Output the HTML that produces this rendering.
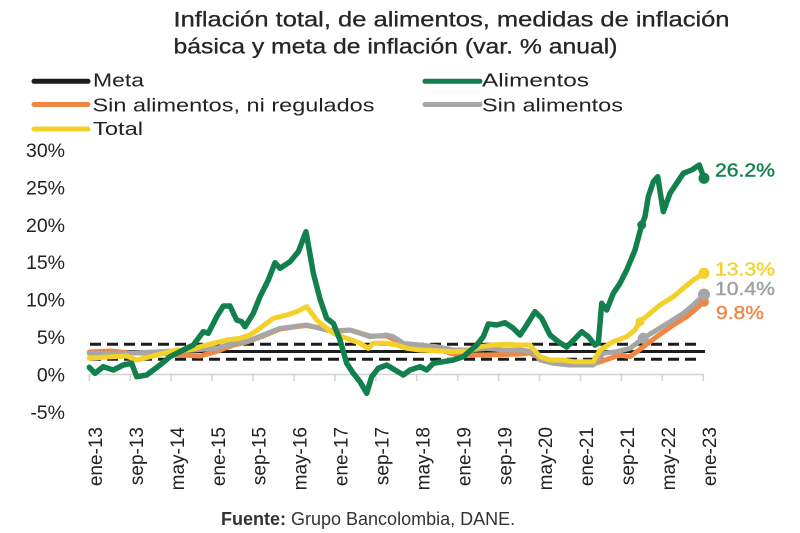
<!DOCTYPE html>
<html>
<head>
<meta charset="utf-8">
<style>
html,body{margin:0;padding:0;background:#fff;}
svg{display:block;}
text{font-family:"Liberation Sans",sans-serif;}
</style>
</head>
<body>
<svg width="800" height="533" viewBox="0 0 800 533" xmlns="http://www.w3.org/2000/svg">
<rect width="800" height="533" fill="#fff"/>

<!-- Title -->
<text x="173.5" y="26.7" font-size="21.5" fill="#262626" stroke="#262626" stroke-width="0.3" textLength="556" lengthAdjust="spacingAndGlyphs">Inflación total, de alimentos, medidas de inflación</text>
<text x="173.5" y="53.3" font-size="21.5" fill="#262626" stroke="#262626" stroke-width="0.3" textLength="444" lengthAdjust="spacingAndGlyphs">básica y meta de inflación (var. % anual)</text>

<!-- Legend -->
<g stroke-width="5" stroke-linecap="round">
<line x1="34" y1="81.3" x2="88" y2="81.3" stroke="#1c1c1c"/>
<line x1="34" y1="104.5" x2="88" y2="104.5" stroke="#ef8744"/>
<line x1="34" y1="129" x2="88" y2="129" stroke="#f4d128"/>
<line x1="425" y1="81.3" x2="480" y2="81.3" stroke="#11804d"/>
<line x1="425" y1="104.5" x2="480" y2="104.5" stroke="#a6a6a6"/>
</g>
<g font-size="18.5" fill="#222">
<text x="93" y="86.7" textLength="51" lengthAdjust="spacingAndGlyphs">Meta</text>
<text x="92.5" y="111.7" textLength="282" lengthAdjust="spacingAndGlyphs">Sin alimentos, ni regulados</text>
<text x="93" y="135" textLength="50" lengthAdjust="spacingAndGlyphs">Total</text>
<text x="482" y="86.7" textLength="107" lengthAdjust="spacingAndGlyphs">Alimentos</text>
<text x="482" y="111.7" textLength="141" lengthAdjust="spacingAndGlyphs">Sin alimentos</text>
</g>

<!-- Y labels -->
<g font-size="19.5" fill="#222" text-anchor="end">
<text x="65" y="157">30%</text>
<text x="65" y="194.4">25%</text>
<text x="65" y="231.8">20%</text>
<text x="65" y="269.2">15%</text>
<text x="65" y="306.6">10%</text>
<text x="65" y="344">5%</text>
<text x="65" y="381.5">0%</text>
<text x="65" y="418.9">-5%</text>
</g>

<!-- X axis -->
<line x1="89.3" y1="374.5" x2="704" y2="374.5" stroke="#d2d2d2" stroke-width="1.5"/>
<g stroke="#d2d2d2" stroke-width="1.5">
<line x1="89.3" y1="374.5" x2="89.3" y2="381"/>
<line x1="130.2" y1="374.5" x2="130.2" y2="381"/>
<line x1="171.2" y1="374.5" x2="171.2" y2="381"/>
<line x1="212.1" y1="374.5" x2="212.1" y2="381"/>
<line x1="253" y1="374.5" x2="253" y2="381"/>
<line x1="294" y1="374.5" x2="294" y2="381"/>
<line x1="334.9" y1="374.5" x2="334.9" y2="381"/>
<line x1="375.8" y1="374.5" x2="375.8" y2="381"/>
<line x1="416.7" y1="374.5" x2="416.7" y2="381"/>
<line x1="457.7" y1="374.5" x2="457.7" y2="381"/>
<line x1="498.6" y1="374.5" x2="498.6" y2="381"/>
<line x1="539.5" y1="374.5" x2="539.5" y2="381"/>
<line x1="580.5" y1="374.5" x2="580.5" y2="381"/>
<line x1="621.4" y1="374.5" x2="621.4" y2="381"/>
<line x1="662.3" y1="374.5" x2="662.3" y2="381"/>
<line x1="703.3" y1="374.5" x2="703.3" y2="381"/>
</g>
<g font-size="19" fill="#222" text-anchor="end">
<text transform="translate(102,427) rotate(-90)">ene-13</text>
<text transform="translate(142.9,427) rotate(-90)">sep-13</text>
<text transform="translate(183.9,427) rotate(-90)">may-14</text>
<text transform="translate(224.8,427) rotate(-90)">ene-15</text>
<text transform="translate(265.7,427) rotate(-90)">sep-15</text>
<text transform="translate(306.7,427) rotate(-90)">may-16</text>
<text transform="translate(347.6,427) rotate(-90)">ene-17</text>
<text transform="translate(388.5,427) rotate(-90)">sep-17</text>
<text transform="translate(429.4,427) rotate(-90)">may-18</text>
<text transform="translate(470.4,427) rotate(-90)">ene-19</text>
<text transform="translate(511.3,427) rotate(-90)">sep-19</text>
<text transform="translate(552.2,427) rotate(-90)">may-20</text>
<text transform="translate(593.2,427) rotate(-90)">ene-21</text>
<text transform="translate(634.1,427) rotate(-90)">sep-21</text>
<text transform="translate(675,427) rotate(-90)">may-22</text>
<text transform="translate(716,427) rotate(-90)">ene-23</text>
</g>

<!-- Meta lines -->
<line x1="89" y1="351.5" x2="705" y2="351.5" stroke="#1c1c1c" stroke-width="3"/>
<line x1="90" y1="344.2" x2="697" y2="344.2" stroke="#1c1c1c" stroke-width="3" stroke-dasharray="11 6"/>
<line x1="90" y1="359.2" x2="697" y2="359.2" stroke="#1c1c1c" stroke-width="3" stroke-dasharray="11 6"/>

<!-- Series -->
<g fill="none" stroke-width="5" stroke-linejoin="round" stroke-linecap="round">
<polyline stroke="#ef8744" points="89.3,352 110,351 130,353 160,353 180,355 200,356 215,352 233.3,345 246.7,342 263.3,336 280,329 293.3,327 306.7,325.5 320,328 333.3,331 350,330 360,333 370,336 386.7,336 403.3,344 420,346 436.7,349 453.3,354 470,355 486.7,355 503.3,354.5 520,354 530,353 540,358 553.3,363 570,365 593.3,364 600,361.7 620,355 630,356.7 643.3,346.7 656.7,336.7 673.3,325 686.7,316.7 696.7,308.3 704,301.7"/>
<polyline stroke="#a6a6a6" points="89.3,353.3 126.7,353.3 160,351.7 193.3,350 216.7,348.3 233.3,343.3 246.7,341.7 263.3,335 280,328.3 293.3,326.7 306.7,325 320,328.3 333.3,331.7 350,330 360,333.3 370,336.7 386.7,335 393.3,336.7 403.3,343.3 420,345 436.7,346.7 453.3,350 470,350 486.7,348.3 503.3,350 520,350 533.3,351.7 540,360 553.3,363.3 570,365 593.3,365 603.3,353.3 616.7,351.7 630,348.3 643.3,338.3 656.7,330 670,321.7 683.3,313.3 693.3,305 704,295"/>
<polyline stroke="#f4d128" points="89.3,358.3 110,356.7 126.7,356 136.7,360 150,356.7 163.3,353.3 176.7,350 190,350 200,346.7 213.3,343.3 226.7,340 240,338.3 250,335 260,328.3 273.3,318.3 286.7,315 296.7,311.7 306.7,306.7 316.7,320 326.7,328.3 333.3,333.3 346.7,338.3 360,343.3 368.3,348.3 373.3,343.3 386.7,343.3 396.7,345 406.7,348.3 420,350 436.7,350.7 453.3,351.7 466.7,351 480,346.7 493.3,345 506.7,344.3 520,345 530,345 540,356.7 550,360 563.3,360 573.3,361.7 593.3,361.7 600,350 613.3,341.7 626.7,336.7 635,330 640,321.7 650,313.3 660,305 673.3,296.7 683.3,288.3 693.3,280 704,273.3"/>
<polyline stroke="#11804d" stroke-width="5.5" points="89.3,367.3 95,373.3 103.3,366.7 113.3,370 123.3,365 131.7,363.3 136.7,376.7 146.7,375 160,365 170,356.7 183.3,350 193.3,345 203.3,331.7 208.3,333.3 216.7,316.7 223.3,306 230,306 236.7,320 241.7,321.7 245,326.7 253.3,313.3 260,296.7 268.3,280 275,262.7 280,268.3 290,261.7 298.3,251.7 306,231.7 313.3,273 320,299 326.7,318.3 333.3,323.3 340,340 346.7,363.3 353.3,373.3 360,381.7 366.7,393.3 371.7,376.7 378.3,368.3 386.7,365 395,370 403.3,375 410,370 420,366.7 426.7,370 433.3,363.3 443.3,361.7 453.3,360 463.3,356.7 476.7,345 483.3,336.7 488.3,324 496.7,325 505,322.7 513.3,328.3 520,335 526.7,325 535,311.7 541.7,318.3 550,335 558.3,341.7 566.7,347 573.3,340.5 581.7,331.7 588.3,336.7 595,345 598.3,343.3 601.7,303.3 606.7,310 613.3,293.3 620,283.3 626.7,270 635,250 641.7,225 645,216.7 648.3,196.7 653.3,181.7 657.7,176.7 663.3,211.7 670,193.3 676.7,183.3 683.3,173.3 691.7,170 696.7,166.7 699.3,165 704,178.3"/>
</g>

<!-- Markers -->
<circle cx="704" cy="301.7" r="5" fill="#ef8744"/>
<circle cx="643.3" cy="338.3" r="5.5" fill="#a6a6a6"/>
<circle cx="704" cy="294.5" r="6" fill="#a6a6a6"/>
<circle cx="640" cy="321.7" r="4.5" fill="#f4d128"/>
<circle cx="704" cy="273.3" r="5.5" fill="#f4d128"/>
<circle cx="641.7" cy="225" r="4.5" fill="#11804d"/>
<circle cx="704" cy="178.3" r="5.5" fill="#11804d"/>

<!-- End labels -->
<g font-size="18.5" stroke-width="0.4">
<text x="715" y="176.7" fill="#11804d" stroke="#11804d" textLength="60" lengthAdjust="spacingAndGlyphs">26.2%</text>
<text x="715" y="275.7" fill="#f4d128" stroke="#f4d128" textLength="60" lengthAdjust="spacingAndGlyphs">13.3%</text>
<text x="715" y="295" fill="#a0a0a0" stroke="#a0a0a0" textLength="60" lengthAdjust="spacingAndGlyphs">10.4%</text>
<text x="716" y="319" fill="#ef8744" stroke="#ef8744" textLength="48" lengthAdjust="spacingAndGlyphs">9.8%</text>
</g>

<!-- Source -->
<text x="221" y="525" font-size="18" fill="#333"><tspan font-weight="bold">Fuente:</tspan> Grupo Bancolombia, DANE.</text>
</svg>
</body>
</html>
